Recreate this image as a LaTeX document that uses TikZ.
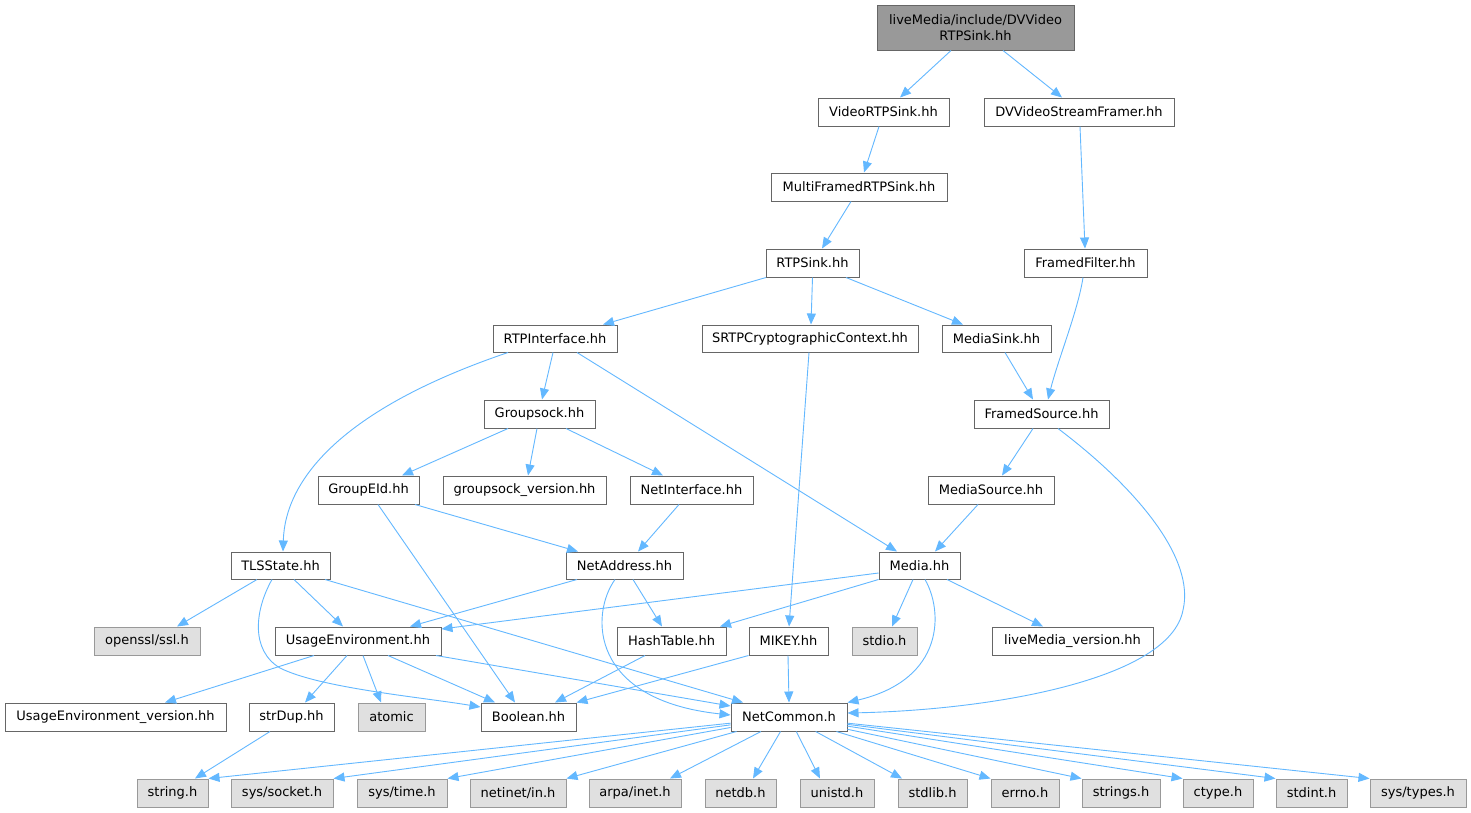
\documentclass[tikz,border=0pt]{standalone}
\usepackage{fontspec}
\setmainfont{DejaVu Sans}
\usetikzlibrary{arrows.meta}
\definecolor{edgec}{HTML}{63B8FF}
\definecolor{bord}{HTML}{666666}
\definecolor{gbord}{HTML}{999999}
\definecolor{gfill}{HTML}{E0E0E0}
\definecolor{rfill}{HTML}{999999}
\tikzset{
 nbox/.style={draw=bord, fill=white, line width=1pt, inner sep=0pt, font=\fontsize{13}{16.5}\selectfont, text=black},
 gbox/.style={nbox, draw=gbord, fill=gfill},
 rbox/.style={nbox, fill=rfill, align=center},
 edge/.style={draw=edgec, line width=0.9pt, -{Triangle[length=11pt,width=9pt]}},
}
\newcommand{\mkbox}[7]{\node[#1, minimum width={(#5-#3)*1pt}, minimum height={(#6-#4)*1pt}] (#2) at ({(#3+#5)/2},{(#4+#6)/2}) {#7};}
\begin{document}
\begin{tikzpicture}[x=1pt,y=-1pt]
\fill[white] (0,0) rectangle (1471,812);
\useasboundingbox (0,0) rectangle (1471,812);
% nodes
\mkbox{rbox}{root}{877}{5}{1074}{50}{liveMedia/include/DVVideo\\RTPSink.hh}
\mkbox{nbox}{vrs}{818}{98}{949}{126}{VideoRTPSink.hh}
\mkbox{nbox}{dvvf}{984}{98}{1174}{126}{DVVideoStreamFramer.hh}
\mkbox{nbox}{mfrs}{771}{173}{947}{201}{MultiFramedRTPSink.hh}
\mkbox{nbox}{rtps}{766}{249}{859}{277}{RTPSink.hh}
\mkbox{nbox}{ff}{1024}{249}{1147}{277}{FramedFilter.hh}
\mkbox{nbox}{rtpi}{493}{325}{617}{352}{RTPInterface.hh}
\mkbox{nbox}{srtp}{702}{325}{918}{352}{SRTPCryptographicContext.hh}
\mkbox{nbox}{ms}{942}{325}{1051}{352}{MediaSink.hh}
\mkbox{nbox}{gs}{484}{400}{595}{428}{Groupsock.hh}
\mkbox{nbox}{fs}{974}{400}{1109}{428}{FramedSource.hh}
\mkbox{nbox}{geid}{318}{476}{419}{504}{GroupEId.hh}
\mkbox{nbox}{gsv}{443}{476}{606}{504}{groupsock\_version.hh}
\mkbox{nbox}{ni}{630}{476}{753}{504}{NetInterface.hh}
\mkbox{nbox}{msrc}{928}{476}{1054}{504}{MediaSource.hh}
\mkbox{nbox}{tls}{231}{552}{330}{579}{TLSState.hh}
\mkbox{nbox}{na}{566}{552}{683}{579}{NetAddress.hh}
\mkbox{nbox}{media}{879}{552}{960}{579}{Media.hh}
\mkbox{gbox}{ssl}{94}{627}{200}{655}{openssl/ssl.h}
\mkbox{nbox}{ue}{275}{627}{441}{655}{UsageEnvironment.hh}
\mkbox{nbox}{ht}{617}{627}{726}{655}{HashTable.hh}
\mkbox{nbox}{mikey}{749}{627}{828}{655}{MIKEY.hh}
\mkbox{gbox}{stdio}{852}{627}{917}{655}{stdio.h}
\mkbox{nbox}{lmv}{992}{627}{1153}{655}{liveMedia\_version.hh}
\mkbox{nbox}{uev}{5}{703}{226}{731}{UsageEnvironment\_version.hh}
\mkbox{nbox}{sd}{249}{703}{334}{731}{strDup.hh}
\mkbox{gbox}{atomic}{358}{703}{425}{731}{atomic}
\mkbox{nbox}{bool}{481}{703}{576}{731}{Boolean.hh}
\mkbox{nbox}{nc}{731}{703}{847}{731}{NetCommon.h}
\mkbox{gbox}{string}{137}{779}{208}{807}{string.h}
\mkbox{gbox}{socket}{231}{779}{333}{807}{sys/socket.h}
\mkbox{gbox}{time}{357}{779}{447}{807}{sys/time.h}
\mkbox{gbox}{netinet}{470}{779}{566}{807}{netinet/in.h}
\mkbox{gbox}{arpa}{589}{779}{681}{807}{arpa/inet.h}
\mkbox{gbox}{netdb}{705}{779}{776}{807}{netdb.h}
\mkbox{gbox}{unistd}{800}{779}{874}{807}{unistd.h}
\mkbox{gbox}{stdlib}{898}{779}{967}{807}{stdlib.h}
\mkbox{gbox}{errno}{991}{779}{1059}{807}{errno.h}
\mkbox{gbox}{strings}{1082}{779}{1160}{807}{strings.h}
\mkbox{gbox}{ctype}{1183}{779}{1253}{807}{ctype.h}
\mkbox{gbox}{stdint}{1276}{779}{1347}{807}{stdint.h}
\mkbox{gbox}{types}{1370}{779}{1466}{807}{sys/types.h}
% edges
\draw[edge] ([xshift=-24.5pt]root.south) -- ([xshift=16.5pt]vrs.north);
\draw[edge] ([xshift=27.5pt]root.south) -- ([xshift=-17pt]dvvf.north);
\draw[edge] ([xshift=-4.5pt]vrs.south) -- ([xshift=5pt]mfrs.north);
\draw[edge] ([xshift=-8pt]mfrs.south) -- ([xshift=9.5pt]rtps.north);
\draw[edge] ([xshift=1pt]dvvf.south) -- ([xshift=-0.5pt]ff.north);
\draw[edge] ([xshift=-46.5pt]rtps.south) -- ([xshift=48pt]rtpi.north);
\draw[edge] (rtps.south) -- ([xshift=1pt]srtp.north);
\draw[edge] ([xshift=33.5pt]rtps.south) -- ([xshift=-33.5pt]ms.north);
\draw[edge] ([xshift=-2.5pt]ff.south) .. controls +(-5,33) and +(10,-40) .. ([xshift=6.5pt]fs.north);
\draw[edge] ([xshift=8.5pt]ms.south) -- ([xshift=-8.5pt]fs.north);
\draw[edge] ([xshift=-2pt]rtpi.south) -- ([xshift=2.5pt]gs.north);
\draw[edge] ([xshift=-47pt]rtpi.south) .. controls +(-168,57) and +(2,-71) .. ([xshift=2.5pt]tls.north);
\draw[edge] ([xshift=22pt]rtpi.south) -- ([xshift=-22.5pt]media.north);
\draw[edge] ([xshift=-1pt]srtp.south) -- ([xshift=0.5pt]mikey.north);
\draw[edge] ([xshift=-8.5pt]fs.south) -- ([xshift=11pt]msrc.north);
\draw[edge] ([xshift=16.5pt]fs.south) .. controls +(82,62) and (1195,560) .. (1183,610) .. controls (1170,680) and (990,710) .. ([yshift=4pt]nc.east);
\draw[edge] ([xshift=-31.5pt]gs.south) -- ([xshift=33.5pt]geid.north);
\draw[edge] ([xshift=-2.5pt]gs.south) -- ([xshift=3.5pt]gsv.north);
\draw[edge] ([xshift=26.5pt]gs.south) -- ([xshift=-28.5pt]ni.north);
\draw[edge] ([xshift=-13pt]msrc.south) -- ([xshift=15.5pt]media.north);
\draw[edge] ([xshift=46.5pt]geid.south) -- ([xshift=-46.5pt]na.north);
\draw[edge] ([xshift=9.5pt]geid.south) -- ([xshift=-13.5pt]bool.north);
\draw[edge] ([xshift=-12.5pt]ni.south) -- ([xshift=13.5pt]na.north);
\draw[edge] ([xshift=-23.5pt]tls.south) -- ([xshift=30pt]ssl.north);
\draw[edge] ([xshift=13.5pt]tls.south) -- ([xshift=-15pt]ue.north);
\draw[edge] ([xshift=-8.5pt]tls.south) .. controls +(-17,30) and (250,650) .. (280,668) .. controls (320,688) and (420,697) .. ([yshift=10pt]bool.west);
\draw[edge] ([xshift=44.5pt]tls.south) -- ([xshift=-46pt]nc.north);
\draw[edge] ([xshift=-47.5pt]na.south) -- ([xshift=52pt]ue.north);
\draw[edge] ([xshift=8.5pt]na.south) -- ([xshift=-9.5pt]ht.north);
\draw[edge] ([xshift=-9.5pt]na.south) .. controls +(-25,35) and +(-141,-15) .. ([yshift=2pt]nc.west);
\draw[edge] ([yshift=-7.5pt]media.west) -- ([yshift=12pt]ue.east);
\draw[edge] (media.south west) -- ([xshift=48.5pt]ht.north);
\draw[edge] ([xshift=-6.5pt]media.south) -- ([xshift=7.5pt]stdio.north);
\draw[edge] ([xshift=5.5pt]media.south) .. controls +(18,31) and +(98,-23) .. (nc.north east);
\draw[edge] ([xshift=27.5pt]media.south) -- ([xshift=-29.5pt]lmv.north);
\draw[edge] ([xshift=-44pt]ue.south) -- ([xshift=49.5pt]uev.north);
\draw[edge] ([xshift=-11pt]ue.south) -- ([xshift=13.5pt]sd.north);
\draw[edge] ([xshift=5pt]ue.south) -- ([xshift=-10.5pt]atomic.north);
\draw[edge] ([xshift=30pt]ue.south) -- ([xshift=-33.5pt]bool.north);
\draw[edge] ([xshift=78pt]ue.south) -- ([yshift=11pt]nc.west);
\draw[edge] ([xshift=-26.5pt]ht.south) -- ([xshift=26.5pt]bool.north);
\draw[edge] (mikey.south west) -- (bool.north east);
\draw[edge] ([xshift=-0.5pt]mikey.south) -- (nc.north);
\draw[edge] ([xshift=-21.5pt]sd.south) -- ([xshift=22.5pt]string.north);
% NetCommon includes
\draw[edge] (nc) -- (string.north east);
\draw[edge] (nc) -- (socket.north east);
\draw[edge] (nc) -- (time.north east);
\draw[edge] (nc) -- (netinet.north east);
\draw[edge] (nc) -- ([xshift=35pt]arpa.north);
\draw[edge] (nc) -- ([xshift=12.5pt]netdb.north);
\draw[edge] (nc) -- ([xshift=-17pt]unistd.north);
\draw[edge] (nc) -- ([xshift=-30.5pt]stdlib.north);
\draw[edge] (nc) -- (errno.north west);
\draw[edge] (nc) -- (strings.north west);
\draw[edge] (nc) -- (ctype.north west);
\draw[edge] (nc) -- (stdint.north west);
\draw[edge] (nc) -- (types.north west);
\end{tikzpicture}
\end{document}
